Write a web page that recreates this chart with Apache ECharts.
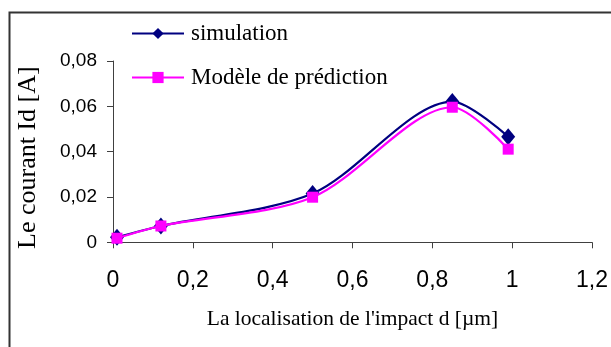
<!DOCTYPE html>
<html>
<head>
<meta charset="utf-8">
<script src="https://cdn.jsdelivr.net/npm/echarts@6/dist/echarts.min.js"></script>
<style>html,body{margin:0;padding:0;background:#fff}#c{width:611px;height:347px}</style>
</head>
<body>
<div id="c"></div>
<script>
const xValues = [0.01, 0.12, 0.5, 0.85, 0.99];
const simulation = [0.0022, 0.0072, 0.0215, 0.0621, 0.0466];
const prediction = [0.0018, 0.0072, 0.0199, 0.0596, 0.0411];
const seriesNames = ['simulation', 'Modèle de prédiction'];
const xTitle = "La localisation de l'impact d [µm]";
const yTitle = 'Le courant Id [A]';

const fmt = v => String(+v.toFixed(4)).replace('.', ',');
const pairs = (xs, ys) => xs.map((x, i) => [x, ys[i]]);

const chart = echarts.init(document.getElementById('c'), null, {renderer: 'canvas'});
chart.setOption({
  backgroundColor: '#fff',
  animation: false,
  graphic: [{
    type: 'rect', left: 7, top: 10, z: -1,
    shape: {x: 0, y: 0, width: 700, height: 400},
    style: {fill: 'none', stroke: '#333', lineWidth: 2}
  }],
  grid: {left: 113, right: 18, top: 61, bottom: 104.7, containLabel: false},
  legend: {
    orient: 'vertical', left: 126, top: 17,
    itemWidth: 52, itemHeight: 14, itemGap: 21,
    textStyle: {fontFamily: 'Liberation Serif', fontSize: 23, color: '#000', lineHeight: 22, padding: [0, 0, 0, 2]},
    data: seriesNames
  },
  xAxis: {
    type: 'value', min: 0, max: 1.2, interval: 0.2,
    name: xTitle, nameLocation: 'middle', nameGap: 66,
    nameTextStyle: {fontFamily: 'Liberation Serif', fontSize: 21.5, color: '#000'},
    axisLine: {show: true, lineStyle: {color: '#404040', width: 1}},
    axisTick: {show: true, inside: false, length: 6, lineStyle: {color: '#404040'}},
    axisLabel: {margin: 27, fontFamily: 'Liberation Sans', fontSize: 23, color: '#000', formatter: fmt},
    splitLine: {show: false}
  },
  yAxis: {
    type: 'value', min: 0, max: 0.08, interval: 0.02,
    name: yTitle, nameLocation: 'middle', nameGap: 72, nameRotate: 90,
    nameTextStyle: {fontFamily: 'Liberation Serif', fontSize: 26, color: '#000', padding: [0, 12, 0, 0]},
    axisLine: {show: true, lineStyle: {color: '#404040', width: 1}},
    axisTick: {show: true, inside: false, length: 6, lineStyle: {color: '#404040'}},
    axisLabel: {margin: 16, fontFamily: 'Liberation Sans', fontSize: 19, color: '#000', formatter: fmt},
    splitLine: {show: false}
  },
  series: [
    {
      name: seriesNames[0], type: 'line', smooth: 0.3,
      data: pairs(xValues, simulation),
      symbol: 'diamond', symbolSize: [14, 17],
      lineStyle: {color: '#000080', width: 2.2},
      itemStyle: {color: '#000080'}, z: 2
    },
    {
      name: seriesNames[1], type: 'line', smooth: 0.3,
      data: pairs(xValues, prediction),
      symbol: 'rect', symbolSize: 11,
      lineStyle: {color: '#FF00FF', width: 2.2},
      itemStyle: {color: '#FF00FF'}, z: 3
    }
  ]
});
</script>
</body>
</html>
